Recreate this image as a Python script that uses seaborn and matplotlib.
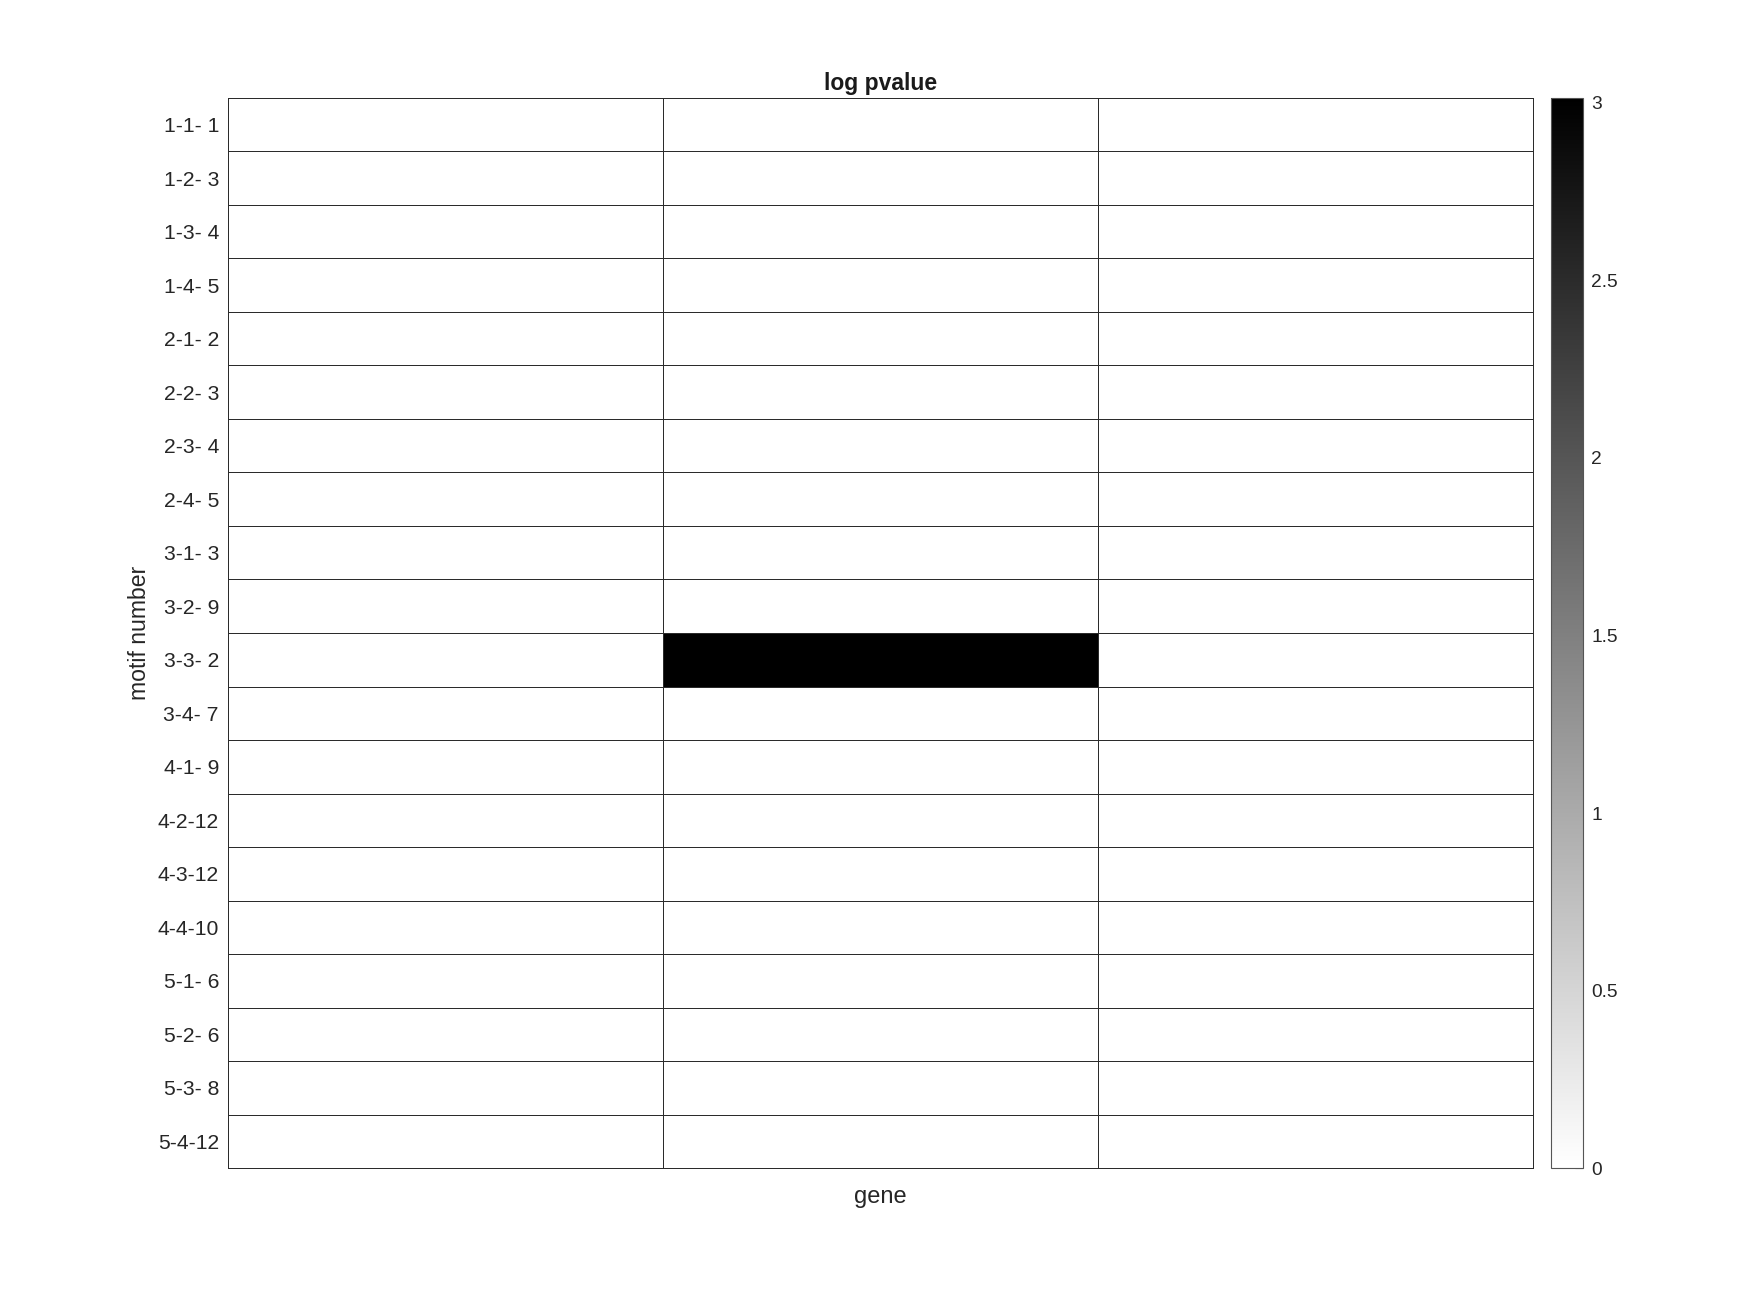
import numpy as np
import pandas as pd
import matplotlib
matplotlib.use("Agg")
import matplotlib.pyplot as plt
import seaborn as sns

# motif rows (top to bottom) and the three gene columns
motif_labels = ["1-1- 1", "1-2- 3", "1-3- 4", "1-4- 5",
                "2-1- 2", "2-2- 3", "2-3- 4", "2-4- 5",
                "3-1- 3", "3-2- 9", "3-3- 2", "3-4- 7",
                "4-1- 9", "4-2-12", "4-3-12", "4-4-10",
                "5-1- 6", "5-2- 6", "5-3- 8", "5-4-12"]
gene_cols = ["g1", "g2", "g3"]

# -log p values; only motif 3-3-2 in the second gene is significant
gene_1 = [0, 0, 0, 0, 0, 0, 0, 0, 0, 0, 0, 0, 0, 0, 0, 0, 0, 0, 0, 0]
gene_2 = [0, 0, 0, 0, 0, 0, 0, 0, 0, 0, 3.014, 0, 0, 0, 0, 0, 0, 0, 0, 0]
gene_3 = [0, 0, 0, 0, 0, 0, 0, 0, 0, 0, 0, 0, 0, 0, 0, 0, 0, 0, 0, 0]

cbar_ticks = [0, 0.5, 1, 1.5, 2, 2.5, 3]
cbar_ticklabels = ["0", "0.5", "1", "1.5", "2", "2.5", "3"]

sns.set_style("white")
plt.rcParams["font.family"] = ["Liberation Sans", "DejaVu Sans"]

df = pd.DataFrame({"g1": gene_1, "g2": gene_2, "g3": gene_3}, index=motif_labels)

fig = plt.figure(figsize=(17.5, 13.13), dpi=100)
ax = fig.add_axes([0.1303, 0.1104, 0.7457, 0.815])
cax = fig.add_axes([0.8863, 0.1104, 0.0183, 0.815])

# colour range runs from the data min to the data max, like the original
sns.heatmap(df, cmap="gray_r", linewidths=0.72, linecolor="#2b2b2b",
            xticklabels=False, yticklabels=motif_labels, ax=ax, cbar_ax=cax)
ax.collections[0].set_antialiased(False)

for s in ax.spines.values():
    s.set_visible(True)
    s.set_color("#2b2b2b")
    s.set_linewidth(0.72)

ax.tick_params(axis="y", length=0, pad=6.5, labelsize=15.2, labelcolor="#262626", rotation=0)
for t in ax.get_yticklabels():
    t.set_verticalalignment("center_baseline")
ax.tick_params(axis="x", length=0)
ax.set_title("log pvalue", fontsize=16.5, fontweight="bold", color="#1a1a1a", pad=6)
ax.set_xlabel("gene", fontsize=17, color="#262626", labelpad=13)
ax.set_ylabel("motif number", fontsize=16.6, color="#262626", labelpad=5)

cbar = ax.collections[0].colorbar
cbar.set_ticks(cbar_ticks)
cbar.set_ticklabels(cbar_ticklabels)
cbar.outline.set_edgecolor("#555555")
cbar.outline.set_linewidth(0.8)
cax.tick_params(direction="in", length=6, width=0.8, color="#555555",
                labelsize=13.8, labelcolor="#262626", pad=6)
for t in cax.get_yticklabels():
    t.set_verticalalignment("center_baseline")

fig.savefig("out.png", dpi=100, facecolor="white")
